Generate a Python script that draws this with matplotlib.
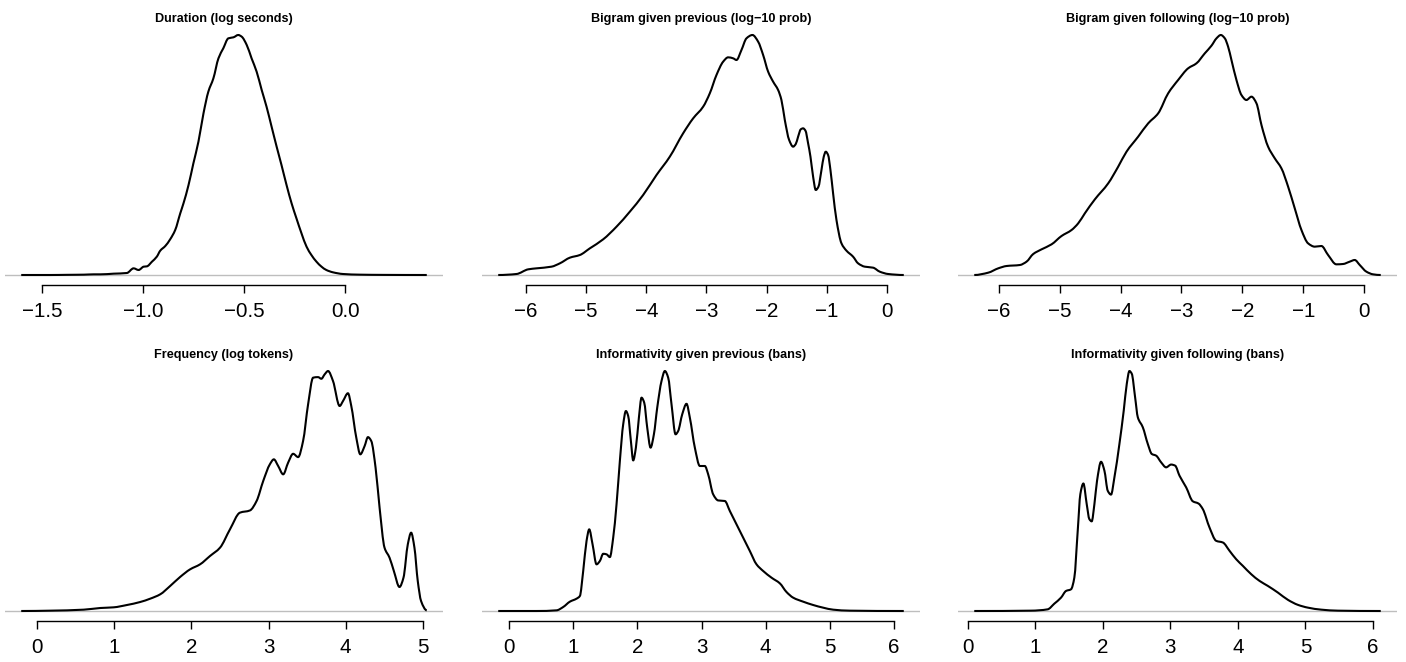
import matplotlib
matplotlib.use("Agg")
import matplotlib.pyplot as plt
import numpy as np
from matplotlib.path import Path
from matplotlib.patches import PathPatch

plt.rcParams['font.family'] = ['Liberation Sans', 'DejaVu Sans']

# kernel density estimates (x, density)
dur_x = [-1.604, -1.459, -1.377, -1.294, -1.245, -1.212, -1.146, -1.081, -1.048, -1.023,
         -0.998, -0.982, -0.957, -0.933, -0.916, -0.891, -0.867, -0.842, -0.817, -0.801,
         -0.776, -0.752, -0.727, -0.702, -0.678, -0.653, -0.628, -0.604, -0.579, -0.554,
         -0.530, -0.513, -0.488, -0.464, -0.439, -0.414, -0.390, -0.365, -0.340, -0.316,
         -0.291, -0.266, -0.242, -0.217, -0.192, -0.168, -0.143, -0.118, -0.094, -0.061,
         -0.012, 0.071, 0.186, 0.403]
dur_y = [0, 0, 0.0015, 0.003, 0.006, 0.006, 0.012, 0.018, 0.060, 0.045,
         0.075, 0.078, 0.120, 0.165, 0.219, 0.261, 0.321, 0.405, 0.555, 0.645,
         0.810, 1.005, 1.200, 1.455, 1.650, 1.770, 1.950, 2.040, 2.130, 2.139,
         2.160, 2.145, 2.070, 1.950, 1.830, 1.665, 1.515, 1.335, 1.155, 0.990,
         0.810, 0.645, 0.510, 0.375, 0.255, 0.180, 0.120, 0.075, 0.045, 0.024,
         0.009, 0.003, 0.001, 0]

bprev_x = [-6.459, -6.155, -5.961, -5.823, -5.574, -5.435, -5.269, -5.103, -4.937, -4.716,
           -4.494, -4.273, -4.052, -3.830, -3.609, -3.388, -3.221, -3.055, -2.945, -2.834,
           -2.723, -2.640, -2.557, -2.502, -2.419, -2.336, -2.236, -2.142, -2.059, -1.976,
           -1.893, -1.810, -1.755, -1.699, -1.627, -1.561, -1.517, -1.478, -1.434, -1.395,
           -1.356, -1.312, -1.273, -1.229, -1.185, -1.140, -1.090, -1.052, -1.019, -0.980,
           -0.941, -0.897, -0.841, -0.758, -0.675, -0.565, -0.482, -0.371, -0.233, -0.122,
           0.017, 0.277]
bprev_y = [0, 0.0015, 0.0085, 0.010, 0.0125, 0.0175, 0.026, 0.030, 0.040, 0.0535,
           0.0725, 0.095, 0.120, 0.150, 0.1775, 0.2125, 0.235, 0.2525, 0.2725, 0.300,
           0.320, 0.3265, 0.325, 0.3225, 0.3375, 0.355, 0.360, 0.350, 0.330, 0.305,
           0.290, 0.2775, 0.2625, 0.2325, 0.2025, 0.1925, 0.1965, 0.2075, 0.2185, 0.220,
           0.2165, 0.1975, 0.1775, 0.1475, 0.1275, 0.1325, 0.1575, 0.1775, 0.185, 0.180,
           0.1575, 0.1225, 0.0825, 0.0475, 0.0365, 0.0275, 0.0175, 0.0125, 0.011, 0.005,
           0.0015, 0]

bfoll_x = [-6.405, -6.175, -6.011, -5.874, -5.655, -5.546, -5.436, -5.299, -5.135, -4.971,
           -4.806, -4.697, -4.588, -4.423, -4.204, -4.040, -3.903, -3.712, -3.547, -3.383,
           -3.219, -3.055, -2.891, -2.754, -2.617, -2.507, -2.425, -2.354, -2.288, -2.234,
           -2.179, -2.097, -2.015, -1.933, -1.850, -1.768, -1.686, -1.577, -1.467, -1.358,
           -1.248, -1.139, -1.029, -0.920, -0.810, -0.701, -0.591, -0.455, -0.345, -0.236,
           -0.153, -0.071, 0.038, 0.148, 0.274]
bfoll_y = [0, 0.0035, 0.010, 0.0135, 0.015, 0.020, 0.0315, 0.0385, 0.046, 0.0585,
           0.0675, 0.0775, 0.0925, 0.1135, 0.1375, 0.1625, 0.185, 0.2075, 0.2275, 0.2425,
           0.2725, 0.2925, 0.310, 0.3175, 0.3325, 0.344, 0.355, 0.360, 0.355, 0.3425,
           0.3225, 0.2925, 0.270, 0.2625, 0.2675, 0.2575, 0.225, 0.1925, 0.175, 0.160,
           0.1325, 0.100, 0.0675, 0.0475, 0.0425, 0.0435, 0.030, 0.016, 0.0165, 0.020,
           0.0225, 0.015, 0.005, 0.001, 0]

freq_x = [-0.207, 0.172, 0.603, 0.819, 0.991, 1.164, 1.336, 1.466, 1.595, 1.724,
          1.853, 1.983, 2.112, 2.241, 2.371, 2.500, 2.629, 2.759, 2.845, 2.931,
          3.017, 3.069, 3.125, 3.190, 3.254, 3.319, 3.384, 3.448, 3.513, 3.578,
          3.642, 3.685, 3.728, 3.772, 3.836, 3.922, 3.966, 4.030, 4.073, 4.138,
          4.190, 4.246, 4.289, 4.332, 4.388, 4.440, 4.504, 4.569, 4.625, 4.698,
          4.750, 4.806, 4.849, 4.892, 4.935, 4.978, 5.052]
freq_y = [0, 0.0006, 0.0024, 0.0054, 0.0066, 0.0108, 0.0162, 0.0222, 0.030, 0.045,
          0.0612, 0.075, 0.084, 0.099, 0.114, 0.147, 0.177, 0.181, 0.198, 0.234,
          0.264, 0.273, 0.261, 0.246, 0.267, 0.283, 0.277, 0.306, 0.372, 0.420,
          0.421, 0.418, 0.426, 0.432, 0.414, 0.369, 0.378, 0.392, 0.369, 0.312,
          0.282, 0.297, 0.313, 0.306, 0.258, 0.186, 0.114, 0.096, 0.072, 0.0432,
          0.060, 0.120, 0.141, 0.114, 0.054, 0.018, 0.0012]

iprev_x = [-0.172, 0.426, 0.738, 0.842, 0.946, 1.050, 1.102, 1.154, 1.206, 1.248,
           1.300, 1.362, 1.414, 1.466, 1.518, 1.570, 1.622, 1.674, 1.726, 1.778,
           1.820, 1.856, 1.898, 1.934, 1.976, 2.023, 2.064, 2.106, 2.153, 2.205,
           2.257, 2.309, 2.376, 2.428, 2.480, 2.532, 2.595, 2.636, 2.699, 2.766,
           2.818, 2.896, 2.974, 3.052, 3.104, 3.182, 3.260, 3.364, 3.442, 3.546,
           3.650, 3.754, 3.858, 3.962, 4.092, 4.222, 4.326, 4.430, 4.586, 4.742,
           4.898, 5.054, 5.314, 6.156]
iprev_y = [0, 0, 0.0012, 0.0072, 0.0168, 0.0222, 0.027, 0.072, 0.126, 0.147,
           0.120, 0.084, 0.090, 0.103, 0.102, 0.097, 0.132, 0.192, 0.270, 0.336,
           0.360, 0.351, 0.306, 0.271, 0.294, 0.348, 0.384, 0.375, 0.330, 0.294,
           0.318, 0.366, 0.414, 0.432, 0.420, 0.372, 0.318, 0.324, 0.354, 0.373,
           0.348, 0.294, 0.261, 0.261, 0.246, 0.210, 0.199, 0.198, 0.180, 0.156,
           0.132, 0.108, 0.084, 0.072, 0.060, 0.0498, 0.0342, 0.024, 0.0168, 0.0108,
           0.006, 0.0024, 0.0006, 0]

ifoll_x = [0.099, 0.938, 1.185, 1.284, 1.383, 1.457, 1.531, 1.580, 1.630, 1.669,
           1.714, 1.763, 1.802, 1.837, 1.877, 1.916, 1.975, 2.025, 2.074, 2.123,
           2.173, 2.247, 2.311, 2.356, 2.395, 2.430, 2.479, 2.519, 2.593, 2.667,
           2.726, 2.790, 2.864, 2.938, 3.012, 3.072, 3.136, 3.235, 3.333, 3.417,
           3.481, 3.580, 3.679, 3.778, 3.877, 3.975, 4.074, 4.198, 4.321, 4.444,
           4.593, 4.741, 4.889, 5.037, 5.235, 5.481, 6.114]
ifoll_y = [0, 0.0006, 0.003, 0.0132, 0.024, 0.036, 0.039, 0.060, 0.144, 0.210,
           0.229, 0.192, 0.165, 0.161, 0.192, 0.234, 0.268, 0.252, 0.216, 0.209,
           0.240, 0.300, 0.360, 0.408, 0.431, 0.426, 0.384, 0.348, 0.330, 0.300,
           0.282, 0.279, 0.267, 0.258, 0.263, 0.261, 0.243, 0.222, 0.197, 0.193,
           0.183, 0.150, 0.126, 0.123, 0.108, 0.093, 0.081, 0.066, 0.054, 0.045,
           0.033, 0.020, 0.011, 0.006, 0.0024, 0.0006, 0]

titles = ["Duration (log seconds)", "Bigram given previous (log\u221210 prob)",
          "Bigram given following (log\u221210 prob)", "Frequency (log tokens)",
          "Informativity given previous (bans)", "Informativity given following (bans)"]
ticks = [[-1.5, -1.0, -0.5, 0.0], [-6, -5, -4, -3, -2, -1, 0], [-6, -5, -4, -3, -2, -1, 0],
         [0, 1, 2, 3, 4, 5], [0, 1, 2, 3, 4, 5, 6], [0, 1, 2, 3, 4, 5, 6]]
tick_labels = [["\u22121.5", "\u22121.0", "\u22120.5", "0.0"],
               ["\u22126", "\u22125", "\u22124", "\u22123", "\u22122", "\u22121", "0"],
               ["\u22126", "\u22125", "\u22124", "\u22123", "\u22122", "\u22121", "0"],
               ["0", "1", "2", "3", "4", "5"],
               ["0", "1", "2", "3", "4", "5", "6"],
               ["0", "1", "2", "3", "4", "5", "6"]]

curves = [(dur_x, dur_y), (bprev_x, bprev_y), (bfoll_x, bfoll_y),
          (freq_x, freq_y), (iprev_x, iprev_y), (ifoll_x, ifoll_y)]


def smooth_path(xs, ys):
    # draw the read points as a smooth (monotone cubic) bezier path
    x = np.asarray(xs, float)
    y = np.asarray(ys, float)
    h = np.diff(x)
    d = np.diff(y) / h
    m = np.zeros_like(x)
    for k in range(1, len(x) - 1):
        if d[k - 1] * d[k] > 0:
            w1 = 2 * h[k] + h[k - 1]
            w2 = h[k] + 2 * h[k - 1]
            m[k] = (w1 + w2) / (w1 / d[k - 1] + w2 / d[k])
    verts = [(x[0], y[0])]
    codes = [Path.MOVETO]
    for k in range(len(h)):
        verts += [(x[k] + h[k] / 3, y[k] + m[k] * h[k] / 3),
                  (x[k + 1] - h[k] / 3, y[k + 1] - m[k + 1] * h[k] / 3),
                  (x[k + 1], y[k + 1])]
        codes += [Path.CURVE4] * 3
    return Path(verts, codes)


W, H = 1406, 662
fig = plt.figure(figsize=(W / 100, H / 100), dpi=100)
cols = [(5, 443), (482, 920), (958, 1397)]
rows = [(25.4, 284.6), (361.4, 620.6)]

for i, (xs, ys) in enumerate(curves):
    r, c = divmod(i, 3)
    x0, x1 = cols[c]
    y0, y1 = rows[r]
    ax = fig.add_axes([x0 / W, 1 - y1 / H, (x1 - x0) / W, (y1 - y0) / H])
    ax.axhline(0, color="#bebebe", lw=1.0, zorder=1)
    ax.add_patch(PathPatch(smooth_path(xs, ys), fill=False, edgecolor="black",
                           lw=1.5, joinstyle="round", zorder=2))
    ax.margins(x=0.04, y=0.04)
    ax.autoscale_view()
    ax.set_title(titles[i], fontsize=9.1, fontweight="bold", pad=1)
    for s in ["left", "right", "top"]:
        ax.spines[s].set_visible(False)
    ax.spines["bottom"].set_bounds(ticks[i][0], ticks[i][-1])
    ax.spines["bottom"].set_linewidth(1.0)
    ax.set_yticks([])
    ax.set_xticks(ticks[i])
    ax.set_xticklabels(tick_labels[i])
    ax.tick_params(axis="x", length=6, width=1.0, labelsize=14.8, pad=6.3)

fig.savefig("out.png", dpi=100)
